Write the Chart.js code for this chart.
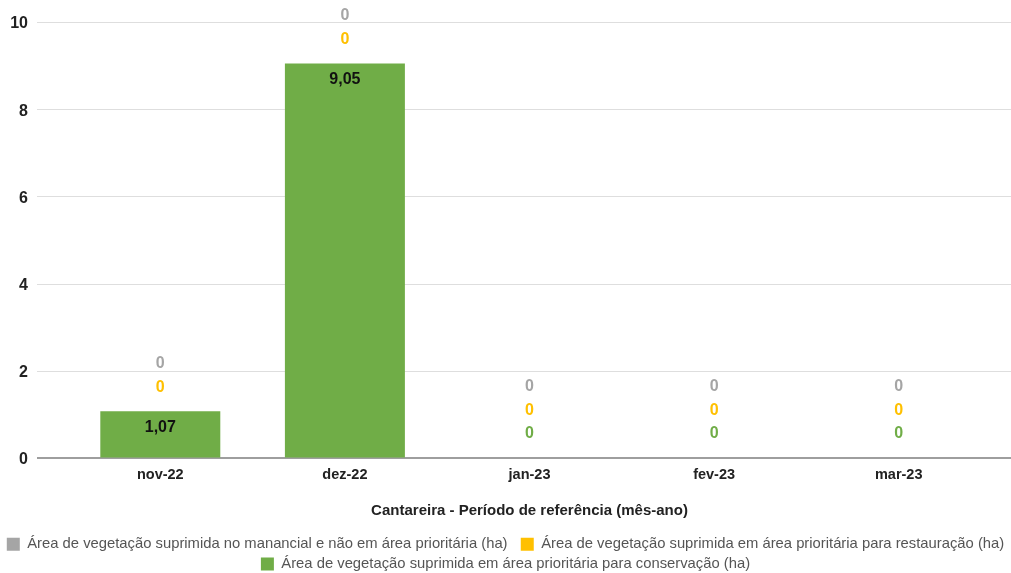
<!DOCTYPE html>
<html>
<head>
<meta charset="utf-8">
<script src="https://cdn.jsdelivr.net/npm/chart.js@4.4.1/dist/chart.umd.min.js"></script>
<style>
  html, body { margin: 0; padding: 0; background: #fff; }
  #wrap { width: 1011px; height: 573px; position: relative; }
</style>
</head>
<body>
<div id="wrap"><canvas id="c" width="1011" height="573"></canvas></div>
<script>
// Monthly suppressed vegetation area, Cantareira (ha)
const months = ['nov-22', 'dez-22', 'jan-23', 'fev-23', 'mar-23'];
const conservacao = [1.07, 9.05, 0, 0, 0];
const restauracao = [0, 0, 0, 0, 0];
const naoPrioritaria = [0, 0, 0, 0, 0];
const yTicks = [0, 2, 4, 6, 8, 10];

const seriesNames = {
  conservacao: 'Área de vegetação suprimida em área prioritária para conservação (ha)',
  restauracao: 'Área de vegetação suprimida em área prioritária para restauração (ha)',
  naoPrioritaria: 'Área de vegetação suprimida no manancial e não em área prioritária (ha)'
};
const COLORS = { green: '#70ad47', yellow: '#ffc000', gray: '#a5a5a5' };
const FONT = "'Liberation Sans', Arial, sans-serif";

function fmt(v) {
  return v === 0 ? '0' : v.toFixed(2).replace('.', ',');
}

// Horizontal gridlines spanning the full plot width, including the margins
const gridPlugin = {
  id: 'wideGrid',
  beforeDatasetsDraw(chart) {
    const ctx = chart.ctx;
    const y = chart.scales.y;
    ctx.save();
    y.ticks.forEach(t => {
      const py = Math.round(y.getPixelForValue(t.value));
      let off = 0.5;
      if (t.value === 0) {
        ctx.strokeStyle = '#9e9e9e';
        ctx.lineWidth = 2;
        off = 0;
      } else {
        ctx.strokeStyle = '#dedede';
        ctx.lineWidth = 1;
      }
      ctx.beginPath();
      ctx.moveTo(37, py + off);
      ctx.lineTo(chart.width, py + off);
      ctx.stroke();
    });
    ctx.restore();
  }
};

// Value labels: inside the bar when it fits, otherwise stacked above
const valueLabels = {
  id: 'valueLabels',
  afterDatasetsDraw(chart) {
    const ctx = chart.ctx;
    const yScale = chart.scales.y;
    ctx.save();
    ctx.font = 'bold 16px ' + FONT;
    ctx.textAlign = 'center';
    ctx.textBaseline = 'middle';
    months.forEach((m, i) => {
      let stackTop = yScale.getPixelForValue(0);
      let outside = 0;
      chart.data.datasets.forEach((ds, di) => {
        const bar = chart.getDatasetMeta(di).data[i];
        if (bar.y < stackTop) stackTop = bar.y;
      });
      chart.data.datasets.forEach((ds, di) => {
        const bar = chart.getDatasetMeta(di).data[i];
        const v = ds.data[i];
        const h = Math.abs(bar.base - bar.y);
        if (h > 24) {
          ctx.fillStyle = '#111';
          ctx.fillText(fmt(v), bar.x, bar.y + 16);
        } else {
          ctx.fillStyle = ds.labelColor;
          ctx.fillText(fmt(v), bar.x, stackTop - 24 - 23.5 * outside);
          outside++;
        }
      });
    });
    ctx.restore();
  }
};

// Legend entries, with a little extra room after the first one
function legendItems(chart) {
  const items = Chart.defaults.plugins.legend.labels.generateLabels(chart);
  items.reverse();
  if (items.length) items[0].text += '  ';
  return items;
}

new Chart(document.getElementById('c'), {
  type: 'bar',
  data: {
    labels: months,
    datasets: [
      { label: seriesNames.conservacao, data: conservacao, backgroundColor: COLORS.green, labelColor: COLORS.green, yAxisID: 'y' },
      { label: seriesNames.restauracao, data: restauracao, backgroundColor: COLORS.yellow, labelColor: COLORS.yellow, yAxisID: 'y' },
      { label: seriesNames.naoPrioritaria, data: naoPrioritaria, backgroundColor: COLORS.gray, labelColor: COLORS.gray, yAxisID: 'y' }
    ]
  },
  plugins: [gridPlugin, valueLabels],
  options: {
    responsive: false,
    animation: false,
    devicePixelRatio: 1,
    layout: { padding: { left: 0, right: 0, top: 22, bottom: -8.5 } },
    datasets: { bar: { categoryPercentage: 1, barPercentage: 0.65 } },
    plugins: {
      tooltip: { enabled: false },
      legend: {
        position: 'bottom',
        labels: {
          boxWidth: 13,
          boxHeight: 13,
          padding: 5,
          color: '#555',
          font: { family: FONT, size: 14.8 },
          generateLabels: legendItems
        }
      }
    },
    scales: {
      x: {
        stacked: true,
        grid: { display: false },
        border: { display: false },
        ticks: { color: '#222', padding: 0, font: { family: FONT, size: 14.5, weight: 'bold' } },
        title: {
          display: true,
          text: 'Cantareira - Período de referência (mês-ano)',
          color: '#222',
          font: { family: FONT, size: 15, weight: 'bold' },
          padding: { top: 0, bottom: 12 }
        },
        afterFit(scale) { scale.height = 74; }
      },
      y: {
        stacked: true,
        min: 0,
        max: 10,
        afterBuildTicks(scale) { scale.ticks = yTicks.map(v => ({ value: v })); },
        grid: { display: true, drawOnChartArea: false, drawTicks: true, tickLength: 31, color: 'rgba(0,0,0,0)' },
        border: { display: false },
        ticks: { color: '#222', padding: 9, labelOffset: 2, font: { family: FONT, size: 16, weight: 'bold' } },
        afterFit(scale) { scale.width = 68; }
      },
      // right-hand margin of the plot
      yRight: {
        position: 'right',
        display: true,
        grid: { display: false },
        border: { display: false },
        ticks: { display: false },
        afterFit(scale) { scale.width = 20; }
      }
    }
  }
});
</script>
</body>
</html>
